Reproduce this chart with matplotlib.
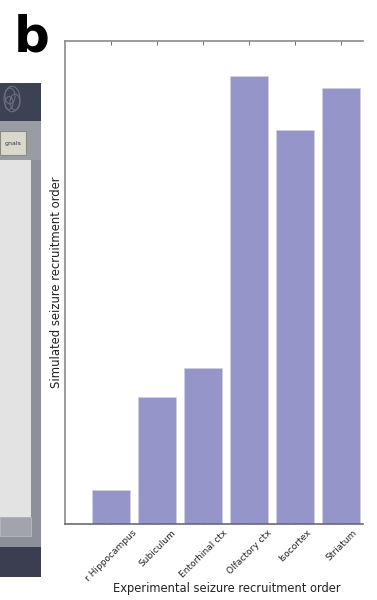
import matplotlib
matplotlib.use("Agg")
import matplotlib.pyplot as plt
from matplotlib.patches import Rectangle, Circle
import numpy as np

regions = ["r Hippocampus", "Subiculum", "Entorhinal ctx", "Olfactory ctx", "Isocortex", "Striatum"]
simulated_order = [0.070, 0.262, 0.324, 0.928, 0.816, 0.903]

W, H = 377, 600
fig = plt.figure(figsize=(W / 100, H / 100), dpi=100)
fig.patch.set_facecolor("white")


def px(x0, y0, x1, y1):
    """Pixel box (top-left origin) to figure-fraction rectangle args."""
    return (x0 / W, 1 - y1 / H), (x1 - x0) / W, (y1 - y0) / H


def add_box(x0, y0, x1, y1, fc, ec="none", lw=0, z=0):
    xy, w, h = px(x0, y0, x1, y1)
    fig.patches.append(Rectangle(xy, w, h, transform=fig.transFigure,
                                 facecolor=fc, edgecolor=ec, linewidth=lw, zorder=z))


# Neighbouring panel: edge of the simulation GUI window
add_box(0, 83, 41, 577, "#8d8f99")
add_box(0, 83, 41, 121, "#3d4154")
add_box(0, 547, 41, 577, "#3a3e50")
add_box(0, 121, 41, 160, "#9a9ca4")
add_box(0, 131, 26, 155, "#d9d8cc", ec="#8a8a80", lw=0.8)
add_box(0, 160, 31, 517, "#e3e3e3")
add_box(0, 517, 31, 536, "#a3a4ab", ec="#b8b8be", lw=0.6)
fig.text(13 / W, 1 - 143 / H, "gnals", fontsize=4.5, color="#333333",
         ha="center", va="center", family="DejaVu Sans")
# wireframe logo in header
for cx, cy, r in [(12, 99, 8), (10, 96, 5), (15, 102, 5), (9, 103, 4)]:
    fig.patches.append(Circle((cx / W, 1 - cy / H), r / W, transform=fig.transFigure,
                              facecolor="none", edgecolor="#6f7281", linewidth=0.7))

# Panel label
fig.text(14 / W, 1 - 52 / H, "b", fontsize=36, fontweight="heavy",
         family="DejaVu Sans", color="black", ha="left", va="baseline")

# Bar chart
ax = fig.add_axes([65 / W, 1 - 524 / H, (363 - 65) / W, (524 - 41) / H])
x = np.arange(len(regions))
ax.bar(x, simulated_order, width=0.82, color="#9595c9",
       edgecolor="#d0d0e0", linewidth=0.6, zorder=2)
ax.set_xlim(-1, 5.47)
ax.set_ylim(0, 1)
ax.set_xticks(x)
ax.set_xticklabels(regions, rotation=45, ha="center",
                   fontsize=6.5, color="#222222")
ax.set_yticks([])
ax.tick_params(axis="x", direction="in", length=3, width=0.6, color="#555555",
               top=True, bottom=True, pad=3)
for side in ["left", "top", "bottom"]:
    ax.spines[side].set_color("#8a8a8a")
    ax.spines[side].set_linewidth(1.2)
ax.spines["bottom"].set_color("#6a6a78")
ax.spines["right"].set_visible(False)

ax.set_xlabel("Experimental seizure recruitment order", fontsize=8.3, color="#222222")
ax.xaxis.set_label_coords(0.544, -0.121)
ax.set_ylabel("Simulated seizure recruitment order", fontsize=8.4, color="#222222")
ax.yaxis.set_label_coords(-0.008, 0.5)

fig.savefig("out.png", dpi=100, facecolor="white")
